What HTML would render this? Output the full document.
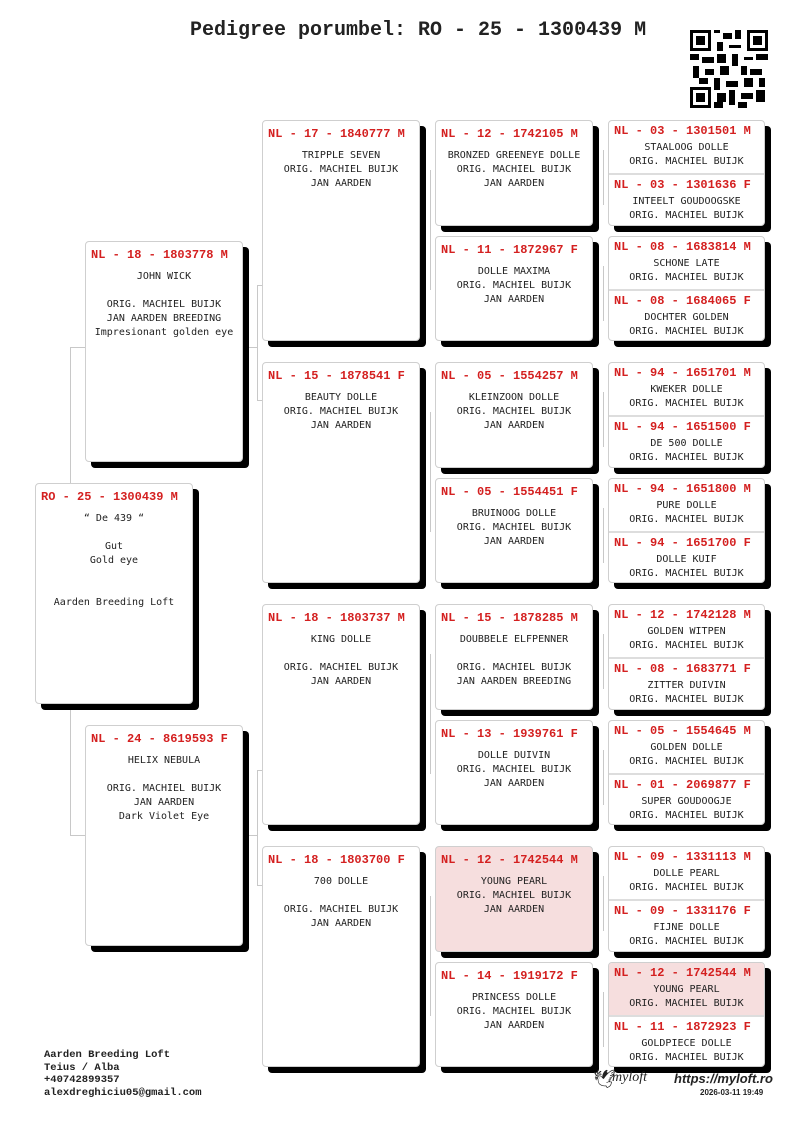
<!DOCTYPE html>
<html><head><meta charset="utf-8"><style>
body{margin:0;width:800px;height:1131px;background:#fff;position:relative;overflow:hidden;font-family:"DejaVu Sans Mono","Liberation Mono",monospace;color:#222}
.b{position:absolute;background:#fff;border:1px solid #cfcfcf;border-radius:4px;box-shadow:6px 6px 0 #000;box-sizing:border-box;font-size:10px;line-height:14px;text-align:center}
.h{font-family:"Liberation Mono",monospace;font-weight:bold;color:#d42020;font-size:12px;text-align:left;padding-left:5px;height:22px;line-height:26px;white-space:pre;margin-bottom:6px}
.pk{background:#f6dede}
.l{position:absolute;background:#c8c8c8}
.half{height:52px;box-sizing:border-box;overflow:hidden}
.half .h{height:18px;line-height:20px;margin-bottom:2px}
.sep{border-top:2px solid #ddd}
</style></head><body>
<div style="position:absolute;left:190px;top:19px;font-family:'Liberation Mono',monospace;font-weight:bold;font-size:20px;white-space:pre">Pedigree porumbel: RO - 25 - 1300439 M</div>
<svg style="position:absolute;left:690px;top:30px" width="78" height="78" viewBox="0 0 26 26">
<rect width="26" height="26" fill="#fff"/>
<g fill="#000">
<rect x="0" y="0" width="7" height="7"/><rect x="1" y="1" width="5" height="5" fill="#fff"/><rect x="2" y="2" width="3" height="3"/>
<rect x="19" y="0" width="7" height="7"/><rect x="20" y="1" width="5" height="5" fill="#fff"/><rect x="21" y="2" width="3" height="3"/>
<rect x="0" y="19" width="7" height="7"/><rect x="1" y="20" width="5" height="5" fill="#fff"/><rect x="2" y="21" width="3" height="3"/>
<rect x="8" y="0" width="2" height="1"/><rect x="11" y="1" width="3" height="2"/><rect x="15" y="0" width="2" height="3"/><rect x="9" y="4" width="2" height="3"/><rect x="13" y="5" width="4" height="1"/>
<rect x="0" y="8" width="3" height="2"/><rect x="4" y="9" width="4" height="2"/><rect x="9" y="8" width="3" height="3"/><rect x="14" y="8" width="2" height="4"/><rect x="18" y="9" width="3" height="1"/><rect x="22" y="8" width="4" height="2"/>
<rect x="1" y="12" width="2" height="4"/><rect x="5" y="13" width="3" height="2"/><rect x="10" y="12" width="3" height="3"/><rect x="17" y="12" width="2" height="3"/><rect x="20" y="13" width="4" height="2"/>
<rect x="3" y="16" width="3" height="2"/><rect x="8" y="16" width="2" height="4"/><rect x="12" y="17" width="4" height="2"/><rect x="18" y="16" width="3" height="3"/><rect x="23" y="16" width="2" height="3"/>
<rect x="9" y="21" width="3" height="3"/><rect x="13" y="20" width="2" height="5"/><rect x="17" y="21" width="4" height="2"/><rect x="22" y="20" width="3" height="4"/><rect x="16" y="24" width="3" height="2"/><rect x="8" y="24" width="3" height="2"/>
</g></svg>

<!-- connectors -->
<div class="l" style="left:70px;top:347px;width:1px;height:488px"></div>
<div class="l" style="left:70px;top:347px;width:15px;height:1px"></div>
<div class="l" style="left:70px;top:835px;width:15px;height:1px"></div>
<div class="l" style="left:257px;top:285px;width:1px;height:115px"></div>
<div class="l" style="left:243px;top:347px;width:14px;height:1px"></div>
<div class="l" style="left:257px;top:285px;width:5px;height:1px"></div><div class="l" style="left:257px;top:400px;width:5px;height:1px"></div>
<div class="l" style="left:257px;top:770px;width:1px;height:115px"></div>
<div class="l" style="left:243px;top:835px;width:14px;height:1px"></div>
<div class="l" style="left:257px;top:770px;width:5px;height:1px"></div><div class="l" style="left:257px;top:885px;width:5px;height:1px"></div>
<div class="l" style="left:430px;top:170px;width:1px;height:120px"></div>
<div class="l" style="left:430px;top:412px;width:1px;height:120px"></div>
<div class="l" style="left:430px;top:654px;width:1px;height:120px"></div>
<div class="l" style="left:430px;top:896px;width:1px;height:120px"></div>
<div class="l" style="left:603px;top:150px;width:1px;height:55px"></div>
<div class="l" style="left:603px;top:266px;width:1px;height:55px"></div>
<div class="l" style="left:603px;top:392px;width:1px;height:55px"></div>
<div class="l" style="left:603px;top:508px;width:1px;height:55px"></div>
<div class="l" style="left:603px;top:634px;width:1px;height:55px"></div>
<div class="l" style="left:603px;top:750px;width:1px;height:55px"></div>
<div class="l" style="left:603px;top:876px;width:1px;height:55px"></div>
<div class="l" style="left:603px;top:992px;width:1px;height:55px"></div>

<!-- root -->
<div class="b" style="left:35px;top:483px;width:158px;height:221px">
<div class="h">RO - 25 - 1300439 M</div>
“ De 439 “<br><br>Gut<br>Gold eye<br><br><br>Aarden Breeding Loft</div>

<!-- gen1 -->
<div class="b" style="left:85px;top:241px;width:158px;height:221px">
<div class="h">NL - 18 - 1803778 M</div>
JOHN WICK<br><br>ORIG. MACHIEL BUIJK<br>JAN AARDEN BREEDING<br>Impresionant golden eye</div>
<div class="b" style="left:85px;top:725px;width:158px;height:221px">
<div class="h">NL - 24 - 8619593 F</div>
HELIX NEBULA<br><br>ORIG. MACHIEL BUIJK<br>JAN AARDEN<br>Dark Violet Eye</div>

<!-- gen2 -->
<div class="b" style="left:262px;top:120px;width:158px;height:221px">
<div class="h">NL - 17 - 1840777 M</div>
TRIPPLE SEVEN<br>ORIG. MACHIEL BUIJK<br>JAN AARDEN</div>
<div class="b" style="left:262px;top:362px;width:158px;height:221px">
<div class="h">NL - 15 - 1878541 F</div>
BEAUTY DOLLE<br>ORIG. MACHIEL BUIJK<br>JAN AARDEN</div>
<div class="b" style="left:262px;top:604px;width:158px;height:221px">
<div class="h">NL - 18 - 1803737 M</div>
KING DOLLE<br><br>ORIG. MACHIEL BUIJK<br>JAN AARDEN</div>
<div class="b" style="left:262px;top:846px;width:158px;height:221px">
<div class="h">NL - 18 - 1803700 F</div>
700 DOLLE<br><br>ORIG. MACHIEL BUIJK<br>JAN AARDEN</div>

<!-- gen3 -->
<div class="b" style="left:435px;top:120px;width:158px;height:106px">
<div class="h">NL - 12 - 1742105 M</div>
BRONZED GREENEYE DOLLE<br>ORIG. MACHIEL BUIJK<br>JAN AARDEN</div>
<div class="b" style="left:435px;top:236px;width:158px;height:105px">
<div class="h">NL - 11 - 1872967 F</div>
DOLLE MAXIMA<br>ORIG. MACHIEL BUIJK<br>JAN AARDEN</div>
<div class="b" style="left:435px;top:362px;width:158px;height:106px">
<div class="h">NL - 05 - 1554257 M</div>
KLEINZOON DOLLE<br>ORIG. MACHIEL BUIJK<br>JAN AARDEN</div>
<div class="b" style="left:435px;top:478px;width:158px;height:105px">
<div class="h">NL - 05 - 1554451 F</div>
BRUINOOG DOLLE<br>ORIG. MACHIEL BUIJK<br>JAN AARDEN</div>
<div class="b" style="left:435px;top:604px;width:158px;height:106px">
<div class="h">NL - 15 - 1878285 M</div>
DOUBBELE ELFPENNER<br><br>ORIG. MACHIEL BUIJK<br>JAN AARDEN BREEDING</div>
<div class="b" style="left:435px;top:720px;width:158px;height:105px">
<div class="h">NL - 13 - 1939761 F</div>
DOLLE DUIVIN<br>ORIG. MACHIEL BUIJK<br>JAN AARDEN</div>
<div class="b pk" style="left:435px;top:846px;width:158px;height:106px">
<div class="h">NL - 12 - 1742544 M</div>
YOUNG PEARL<br>ORIG. MACHIEL BUIJK<br>JAN AARDEN</div>
<div class="b" style="left:435px;top:962px;width:158px;height:105px">
<div class="h">NL - 14 - 1919172 F</div>
PRINCESS DOLLE<br>ORIG. MACHIEL BUIJK<br>JAN AARDEN</div>

<!-- gen4 -->
<div class="b" style="left:608px;top:120px;width:157px;height:106px">
<div class="half"><div class="h">NL - 03 - 1301501 M</div>STAALOOG DOLLE<br>ORIG. MACHIEL BUIJK</div>
<div class="half sep"><div class="h">NL - 03 - 1301636 F</div>INTEELT GOUDOOGSKE<br>ORIG. MACHIEL BUIJK</div></div>
<div class="b" style="left:608px;top:236px;width:157px;height:105px">
<div class="half"><div class="h">NL - 08 - 1683814 M</div>SCHONE LATE<br>ORIG. MACHIEL BUIJK</div>
<div class="half sep"><div class="h">NL - 08 - 1684065 F</div>DOCHTER GOLDEN<br>ORIG. MACHIEL BUIJK</div></div>
<div class="b" style="left:608px;top:362px;width:157px;height:106px">
<div class="half"><div class="h">NL - 94 - 1651701 M</div>KWEKER DOLLE<br>ORIG. MACHIEL BUIJK</div>
<div class="half sep"><div class="h">NL - 94 - 1651500 F</div>DE 500 DOLLE<br>ORIG. MACHIEL BUIJK</div></div>
<div class="b" style="left:608px;top:478px;width:157px;height:105px">
<div class="half"><div class="h">NL - 94 - 1651800 M</div>PURE DOLLE<br>ORIG. MACHIEL BUIJK</div>
<div class="half sep"><div class="h">NL - 94 - 1651700 F</div>DOLLE KUIF<br>ORIG. MACHIEL BUIJK</div></div>
<div class="b" style="left:608px;top:604px;width:157px;height:106px">
<div class="half"><div class="h">NL - 12 - 1742128 M</div>GOLDEN WITPEN<br>ORIG. MACHIEL BUIJK</div>
<div class="half sep"><div class="h">NL - 08 - 1683771 F</div>ZITTER DUIVIN<br>ORIG. MACHIEL BUIJK</div></div>
<div class="b" style="left:608px;top:720px;width:157px;height:105px">
<div class="half"><div class="h">NL - 05 - 1554645 M</div>GOLDEN DOLLE<br>ORIG. MACHIEL BUIJK</div>
<div class="half sep"><div class="h">NL - 01 - 2069877 F</div>SUPER GOUDOOGJE<br>ORIG. MACHIEL BUIJK</div></div>
<div class="b" style="left:608px;top:846px;width:157px;height:106px">
<div class="half"><div class="h">NL - 09 - 1331113 M</div>DOLLE PEARL<br>ORIG. MACHIEL BUIJK</div>
<div class="half sep"><div class="h">NL - 09 - 1331176 F</div>FIJNE DOLLE<br>ORIG. MACHIEL BUIJK</div></div>
<div class="b" style="left:608px;top:962px;width:157px;height:105px;overflow:hidden">
<div class="half pk"><div class="h">NL - 12 - 1742544 M</div>YOUNG PEARL<br>ORIG. MACHIEL BUIJK</div>
<div class="half sep"><div class="h">NL - 11 - 1872923 F</div>GOLDPIECE DOLLE<br>ORIG. MACHIEL BUIJK</div></div>

<!-- footer -->
<div style="position:absolute;left:44px;top:1049px;font-family:'Liberation Mono',monospace;font-weight:bold;font-size:10.5px;line-height:12.5px">Aarden Breeding Loft<br>Teius / Alba<br>+40742899357<br>alexdreghiciu05@gmail.com</div>
<div style="position:absolute;left:593px;top:1070px;font-size:18px;line-height:20px">🕊</div>
<div style="position:absolute;left:612px;top:1070px;font-family:'Liberation Serif',serif;font-style:italic;font-size:14px">myloft</div>
<div style="position:absolute;left:674px;top:1071px;font-family:'Liberation Sans',sans-serif;font-style:italic;font-weight:bold;font-size:13px">https://myloft.ro</div>
<div style="position:absolute;left:700px;top:1088px;font-family:'Liberation Sans',sans-serif;font-weight:bold;font-size:8px">2026-03-11 19:49</div>
</body></html>
